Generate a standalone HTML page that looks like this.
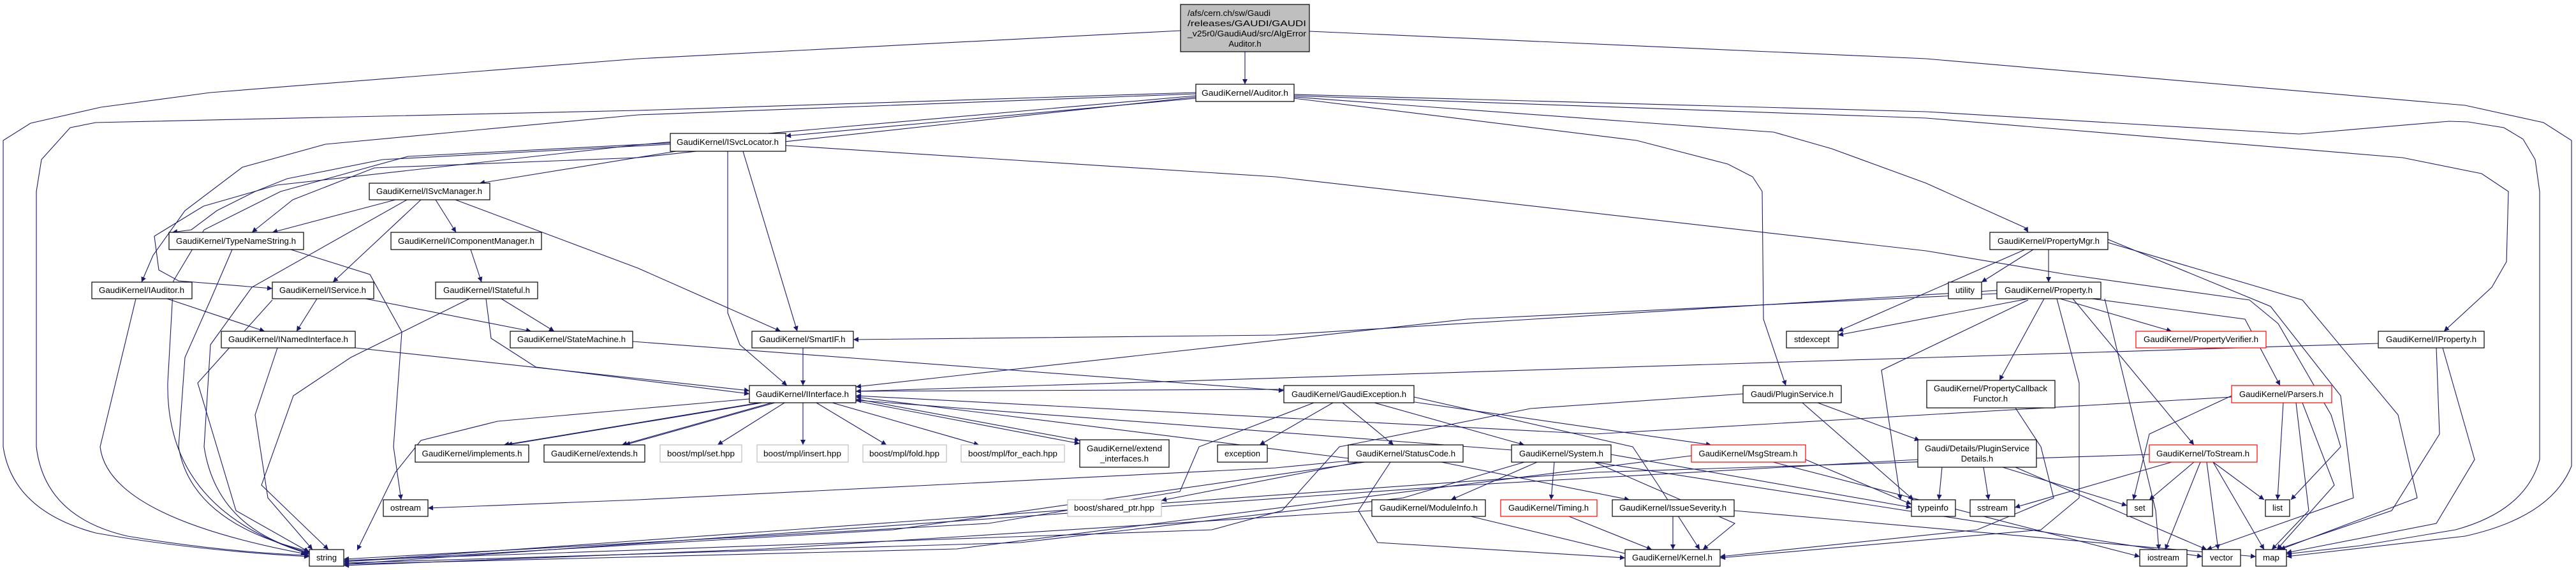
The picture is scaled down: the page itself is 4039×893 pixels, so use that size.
<!DOCTYPE html>
<html><head><meta charset="utf-8"><style>
html,body{margin:0;padding:0;background:#fff;}
svg{display:block;}
text{font-family:"Liberation Sans",sans-serif;font-size:13px;fill:#000;}
.e{fill:none;stroke:#191970;stroke-width:1.1;}
.n{fill:#fff;stroke:#000;stroke-width:1.2;}
.g{fill:#fff;stroke:#bfbfbf;stroke-width:1.2;}
.r{fill:#fff;stroke:#ff0000;stroke-width:1.2;}
</style></head><body>
<svg width="4039" height="893" viewBox="0 0 4039 893" xmlns="http://www.w3.org/2000/svg">
<defs><marker id="a" viewBox="0 0 10 10" refX="10" refY="5" markerWidth="10" markerHeight="8" markerUnits="userSpaceOnUse" orient="auto"><path d="M0,0 L10,5 L0,10 z" fill="#191970"/></marker></defs>
<g class="e" marker-end="url(#a)">
<!-- root -->
<path d="M1952,81 L1952,132"/>
<path d="M1851,48 L1000,92 L330,145 L158,168 L48,193 L5,220 L5,700 Q20,800 150,835 Q300,862 485,872"/>
<path d="M2053,49 L3020,92 L3865,165 L3988,192 L4032,220 L4032,730 Q4000,810 3865,840 L3585,872"/>
<!-- Auditor.h -->
<path d="M1875,145 L1000,173 L150,192 L110,200 L65,250 L57,300 L57,700 Q70,810 200,840 Q350,865 485,870"/>
<path d="M1875,147 L1000,180 L510,226 L380,262 L290,330 L240,400 L222,442"/>
<path d="M1875,150 L1000,227 L434,290 L319,323 L242,370 L249,423 L280,440 L427,452"/>
<path d="M1875,152 L1000,247 L587,263 L459,313 L395,364"/>
<path d="M1875,154 L1232,213"/>
<path d="M2029,148 L3020,175 L3605,210 L3840,190 L3870,191 L3926,200 L3956,218 L3975,250 L3982,300 L3982,720 Q3960,800 3850,830 L3700,855 L3585,868"/>
<path d="M2029,150 L3020,185 L3767,247 L3891,272 L3933,300 L3930,410 L3907,450 L3832,519"/>
<path d="M2029,152 L2781,207 L2872,233 L3020,287 L3176,357 L3180,364"/>
<path d="M2029,154 L2566,220 L2709,257 L2748,277 L2763,300 L2765,500 L2800,604"/>
<!-- ISvcLocator -->
<path d="M1232,228 L2000,277 L3020,393 L3241,430 L3527,470 L3572,507 L3655,650 L3670,700 L3592,783"/>
<path d="M1165,237 L1250,519"/>
<path d="M1141,237 L1141,490 L1160,540 L1234,604"/>
<path d="M1060,237 L752,287"/>
<path d="M1051,224 L640,245 L440,300 L320,360 L272,440 L263,600 Q260,800 485,868"/>
<path d="M1051,226 L600,250 L450,280 L400,300 L340,330 L300,360 L270,364"/>
<!-- ISvcManager -->
<path d="M620,313 L427,364"/>
<path d="M683,313 L715,364"/>
<path d="M660,313 L522,442"/>
<path d="M714,313 L1000,420 L1224,519"/>
<path d="M638,313 L395,450 L330,540 L320,700 Q340,830 485,866"/>
<!-- TypeNameString -->
<path d="M456,391 L580,430 L630,520 L617,700 L629,783"/>
<path d="M364,391 L330,470 L290,560 L280,700 Q300,820 485,864"/>
<!-- IComponentManager / IStateful -->
<path d="M738,391 L755,442"/>
<path d="M786,468 L869,519"/>
<path d="M762,468 L770,530 L840,575 L1175,617"/>
<path d="M736,468 L550,560 L460,620 L410,760 L515,861"/>
<!-- IAuditor -->
<path d="M262,468 L415,519"/>
<path d="M213,468 L157,700 Q170,810 480,868"/>
<!-- IService -->
<path d="M497,468 L465,519"/>
<path d="M573,468 L833,519"/>
<path d="M427,470 L310,600 L370,800 L485,865"/>
<!-- INamedInterface -->
<path d="M557,545 L1000,593 L1175,612"/>
<path d="M435,545 L400,650 L420,780 L490,861"/>
<!-- StateMachine -->
<path d="M992,535 L2013,612"/>
<!-- SmartIF -->
<path d="M1259,545 L1259,604"/>
<!-- IInterface -->
<path d="M1230,631 L1125,697"/>
<path d="M1259,631 L1259,697"/>
<path d="M1280,631 L1390,697"/>
<path d="M1305,631 L1535,697"/>
<path d="M1342,625 L1693,690"/>
<path d="M1342,628 L1693,695"/>
<path d="M1190,631 L790,697"/>
<path d="M1195,631 L795,697"/>
<path d="M1210,631 L975,697"/>
<path d="M1215,631 L980,697"/>
<path d="M1175,625 L780,660 L660,690 L620,740 L560,862"/>
<!-- GaudiException -->
<path d="M2105,631 L2185,697"/>
<path d="M2155,631 L2390,697"/>
<path d="M2090,631 L1975,697"/>
<path d="M2218,630 L2683,697"/>
<path d="M2217,622 L2560,700 L2600,760 L2665,861"/>
<path d="M2060,631 L1880,700 L1850,770 L1550,820 L539,876"/>
<path d="M2013,610 L1342,613"/>
<!-- PluginService -->
<path d="M2850,631 L3010,690"/>
<path d="M2826,631 L3000,783"/>
<path d="M2733,617 L2400,640 L2100,700 L2010,800 L1900,830 L539,878"/>
<!-- StatusCode -->
<path d="M2260,724 L2555,783"/>
<path d="M2180,724 L2130,800 L2160,850 L2548,874"/>
<path d="M2114,722 L2000,733 L1000,783 L671,796"/>
<path d="M2130,724 L1821,784"/>
<path d="M2114,718 L1342,622"/>
<path d="M2140,724 L1400,830 L539,880"/>
<!-- System -->
<path d="M2410,724 L2275,783"/>
<path d="M2437,724 L2432,783"/>
<path d="M2500,724 L2720,820 L2670,861"/>
<path d="M2526,712 L2997,795"/>
<path d="M2500,724 L3453,872"/>
<path d="M2370,705 L1342,627"/>
<path d="M2390,724 L2200,780 L1600,850 L539,882"/>
<!-- MsgStream -->
<path d="M2780,724 L3355,872"/>
<path d="M2652,714 L2050,790 L1500,860 L539,884"/>
<path d="M2831,720 L2997,790"/>
<!-- ModuleInfo, Timing, IssueSeverity -->
<path d="M2306,809 L2560,870"/>
<path d="M2151,800 L1200,860 L539,886"/>
<path d="M2460,809 L2590,861"/>
<path d="M2623,809 L2623,861"/>
<path d="M2719,800 L3537,872"/>
<!-- PluginServiceDetails -->
<path d="M3045,732 L3040,783"/>
<path d="M3110,732 L3118,783"/>
<path d="M3140,732 L3335,792"/>
<path d="M3160,732 L3460,861"/>
<path d="M3007,720 L2300,760 L539,884"/>
<!-- Property -->
<path d="M3230,468 L3405,519"/>
<path d="M3205,468 L3135,596"/>
<path d="M3280,468 L3520,500 L3575,604"/>
<path d="M3250,468 L3440,697"/>
<path d="M3180,468 L2882,525"/>
<path d="M3180,470 L2950,580 L2980,783"/>
<path d="M3131,455 L2000,525 L1338,532"/>
<path d="M3131,460 L2300,500 L1342,606"/>
<path d="M3225,468 L3260,600 L3260,780 L3200,830 L2697,874"/>
<path d="M3300,468 L3380,800 L3385,861"/>
<!-- PropertyMgr -->
<path d="M3212,391 L3212,442"/>
<path d="M3188,391 L3107,442"/>
<path d="M3175,391 L2882,519"/>
<path d="M3305,375 L3560,480 L3670,620 L3690,780 L3460,861"/>
<path d="M3305,380 L3610,470 L3760,650 L3790,780 L3575,861"/>
<!-- PropertyCallbackFunctor -->
<path d="M3160,639 L3200,700 L3220,780 L3100,830 L2697,872"/>
<!-- IProperty -->
<path d="M3729,538 L1342,613"/>
<path d="M3820,545 L3825,680 L3750,800 L3570,861"/>
<path d="M3830,545 L3880,720 L3820,820 L3585,866"/>
<!-- Parsers -->
<path d="M3580,631 L3571,783"/>
<path d="M3499,620 L3370,680 L3345,783"/>
<path d="M3600,631 L3620,800 L3562,861"/>
<path d="M3610,631 L3660,760 L3570,861"/>
<path d="M3499,622 L2500,680 L1342,620"/>
<!-- ToStream -->
<path d="M3405,724 L3159,795"/>
<path d="M3440,724 L3370,783"/>
<path d="M3470,724 L3550,783"/>
<path d="M3450,724 L3395,861"/>
<path d="M3460,724 L3478,861"/>
<path d="M3470,724 L3550,861"/>
<path d="M3370,712 L2500,740 L539,880"/>
</g>
<!-- nodes -->
<rect x="1851" y="7" width="202" height="74" fill="#bfbfbf" stroke="#000" stroke-width="1.2"/>
<text x="1862" y="25" textLength="130" lengthAdjust="spacingAndGlyphs">/afs/cern.ch/sw/Gaudi</text>
<text x="1862" y="41" textLength="186" lengthAdjust="spacingAndGlyphs">/releases/GAUDI/GAUDI</text>
<text x="1862" y="57" textLength="186" lengthAdjust="spacingAndGlyphs">_v25r0/GaudiAud/src/AlgError</text>
<text x="1952" y="73" text-anchor="middle">Auditor.h</text>
<g id="nodes">
<rect class="n" x="1875" y="132" width="154" height="27"/><text x="1952" y="150" text-anchor="middle" textLength="136" lengthAdjust="spacingAndGlyphs">GaudiKernel/Auditor.h</text>
<rect class="n" x="1051" y="209" width="181" height="28"/><text x="1141" y="227" text-anchor="middle" textLength="160" lengthAdjust="spacingAndGlyphs">GaudiKernel/ISvcLocator.h</text>
<rect class="n" x="579" y="287" width="189" height="26"/><text x="673" y="304" text-anchor="middle" textLength="166" lengthAdjust="spacingAndGlyphs">GaudiKernel/ISvcManager.h</text>
<rect class="n" x="265" y="364" width="211" height="27"/><text x="370" y="382" text-anchor="middle" textLength="188" lengthAdjust="spacingAndGlyphs">GaudiKernel/TypeNameString.h</text>
<rect class="n" x="613" y="364" width="236" height="27"/><text x="731" y="382" text-anchor="middle" textLength="214" lengthAdjust="spacingAndGlyphs">GaudiKernel/IComponentManager.h</text>
<rect class="n" x="3120" y="364" width="185" height="27"/><text x="3212" y="382" text-anchor="middle" textLength="160" lengthAdjust="spacingAndGlyphs">GaudiKernel/PropertyMgr.h</text>
<rect class="n" x="144" y="442" width="157" height="26"/><text x="222" y="459" text-anchor="middle" textLength="134" lengthAdjust="spacingAndGlyphs">GaudiKernel/IAuditor.h</text>
<rect class="n" x="427" y="442" width="159" height="26"/><text x="506" y="459" text-anchor="middle" textLength="136" lengthAdjust="spacingAndGlyphs">GaudiKernel/IService.h</text>
<rect class="n" x="683" y="442" width="160" height="26"/><text x="763" y="459" text-anchor="middle" textLength="136" lengthAdjust="spacingAndGlyphs">GaudiKernel/IStateful.h</text>
<rect class="n" x="3055" y="442" width="52" height="26"/><text x="3081" y="459" text-anchor="middle" textLength="30" lengthAdjust="spacingAndGlyphs">utility</text>
<rect class="n" x="3131" y="442" width="163" height="26"/><text x="3212" y="459" text-anchor="middle" textLength="138" lengthAdjust="spacingAndGlyphs">GaudiKernel/Property.h</text>
<rect class="n" x="347" y="519" width="210" height="26"/><text x="452" y="536" text-anchor="middle" textLength="188" lengthAdjust="spacingAndGlyphs">GaudiKernel/INamedInterface.h</text>
<rect class="n" x="800" y="519" width="192" height="26"/><text x="896" y="536" text-anchor="middle" textLength="170" lengthAdjust="spacingAndGlyphs">GaudiKernel/StateMachine.h</text>
<rect class="n" x="1179" y="519" width="159" height="26"/><text x="1258" y="536" text-anchor="middle" textLength="135" lengthAdjust="spacingAndGlyphs">GaudiKernel/SmartIF.h</text>
<rect class="n" x="2801" y="519" width="81" height="26"/><text x="2841" y="536" text-anchor="middle" textLength="56" lengthAdjust="spacingAndGlyphs">stdexcept</text>
<rect class="r" x="3349" y="519" width="204" height="26"/><text x="3451" y="536" text-anchor="middle" textLength="180" lengthAdjust="spacingAndGlyphs">GaudiKernel/PropertyVerifier.h</text>
<rect class="n" x="3729" y="519" width="166" height="26"/><text x="3812" y="536" text-anchor="middle" textLength="142" lengthAdjust="spacingAndGlyphs">GaudiKernel/IProperty.h</text>
<rect class="n" x="3021" y="596" width="201" height="43"/><text x="3121" y="613" text-anchor="middle" textLength="178" lengthAdjust="spacingAndGlyphs">GaudiKernel/PropertyCallback</text><text x="3121" y="629" text-anchor="middle">Functor.h</text>
<rect class="n" x="1175" y="604" width="167" height="27"/><text x="1258" y="622" text-anchor="middle" textLength="146" lengthAdjust="spacingAndGlyphs">GaudiKernel/IInterface.h</text>
<rect class="n" x="2013" y="604" width="204" height="27"/><text x="2115" y="622" text-anchor="middle" textLength="180" lengthAdjust="spacingAndGlyphs">GaudiKernel/GaudiException.h</text>
<rect class="n" x="2733" y="604" width="154" height="27"/><text x="2810" y="622" text-anchor="middle" textLength="130" lengthAdjust="spacingAndGlyphs">Gaudi/PluginService.h</text>
<rect class="r" x="3499" y="604" width="157" height="27"/><text x="3577" y="622" text-anchor="middle" textLength="132" lengthAdjust="spacingAndGlyphs">GaudiKernel/Parsers.h</text>
<rect class="n" x="651" y="697" width="178" height="27"/><text x="740" y="715" text-anchor="middle" textLength="157" lengthAdjust="spacingAndGlyphs">GaudiKernel/implements.h</text>
<rect class="n" x="853" y="697" width="158" height="27"/><text x="932" y="715" text-anchor="middle" textLength="136" lengthAdjust="spacingAndGlyphs">GaudiKernel/extends.h</text>
<rect class="g" x="1035" y="697" width="128" height="27"/><text x="1099" y="715" text-anchor="middle" textLength="106" lengthAdjust="spacingAndGlyphs">boost/mpl/set.hpp</text>
<rect class="g" x="1187" y="697" width="143" height="27"/><text x="1258" y="715" text-anchor="middle" textLength="122" lengthAdjust="spacingAndGlyphs">boost/mpl/insert.hpp</text>
<rect class="g" x="1353" y="697" width="131" height="27"/><text x="1418" y="715" text-anchor="middle" textLength="110" lengthAdjust="spacingAndGlyphs">boost/mpl/fold.hpp</text>
<rect class="g" x="1507" y="697" width="162" height="27"/><text x="1588" y="715" text-anchor="middle" textLength="140" lengthAdjust="spacingAndGlyphs">boost/mpl/for_each.hpp</text>
<rect class="n" x="1693" y="689" width="140" height="43"/><text x="1763" y="707" text-anchor="middle" textLength="118" lengthAdjust="spacingAndGlyphs">GaudiKernel/extend</text><text x="1763" y="723" text-anchor="middle" textLength="76" lengthAdjust="spacingAndGlyphs">_interfaces.h</text>
<rect class="n" x="1909" y="697" width="78" height="27"/><text x="1948" y="715" text-anchor="middle" textLength="56" lengthAdjust="spacingAndGlyphs">exception</text>
<rect class="n" x="2114" y="697" width="180" height="27"/><text x="2204" y="715" text-anchor="middle" textLength="156" lengthAdjust="spacingAndGlyphs">GaudiKernel/StatusCode.h</text>
<rect class="n" x="2370" y="697" width="156" height="27"/><text x="2448" y="715" text-anchor="middle" textLength="132" lengthAdjust="spacingAndGlyphs">GaudiKernel/System.h</text>
<rect class="r" x="2652" y="697" width="179" height="27"/><text x="2741" y="715" text-anchor="middle" textLength="155" lengthAdjust="spacingAndGlyphs">GaudiKernel/MsgStream.h</text>
<rect class="n" x="3007" y="689" width="186" height="43"/><text x="3100" y="707" text-anchor="middle" textLength="164" lengthAdjust="spacingAndGlyphs">Gaudi/Details/PluginService</text><text x="3100" y="723" text-anchor="middle">Details.h</text>
<rect class="r" x="3370" y="697" width="169" height="27"/><text x="3454" y="715" text-anchor="middle" textLength="146" lengthAdjust="spacingAndGlyphs">GaudiKernel/ToStream.h</text>
<rect class="n" x="601" y="783" width="70" height="26"/><text x="636" y="800" text-anchor="middle" textLength="48" lengthAdjust="spacingAndGlyphs">ostream</text>
<rect class="g" x="1674" y="783" width="147" height="26"/><text x="1747" y="800" text-anchor="middle" textLength="126" lengthAdjust="spacingAndGlyphs">boost/shared_ptr.hpp</text>
<rect class="n" x="2151" y="783" width="178" height="26"/><text x="2240" y="800" text-anchor="middle" textLength="154" lengthAdjust="spacingAndGlyphs">GaudiKernel/ModuleInfo.h</text>
<rect class="r" x="2353" y="783" width="151" height="26"/><text x="2428" y="800" text-anchor="middle" textLength="126" lengthAdjust="spacingAndGlyphs">GaudiKernel/Timing.h</text>
<rect class="n" x="2528" y="783" width="191" height="26"/><text x="2623" y="800" text-anchor="middle" textLength="168" lengthAdjust="spacingAndGlyphs">GaudiKernel/IssueSeverity.h</text>
<rect class="n" x="2997" y="783" width="69" height="26"/><text x="3031" y="800" text-anchor="middle" textLength="48" lengthAdjust="spacingAndGlyphs">typeinfo</text>
<rect class="n" x="3089" y="783" width="70" height="26"/><text x="3124" y="800" text-anchor="middle" textLength="48" lengthAdjust="spacingAndGlyphs">sstream</text>
<rect class="n" x="3335" y="783" width="40" height="26"/><text x="3355" y="800" text-anchor="middle">set</text>
<rect class="n" x="3552" y="783" width="38" height="26"/><text x="3571" y="800" text-anchor="middle">list</text>
<rect class="n" x="485" y="861" width="54" height="26"/><text x="512" y="878" text-anchor="middle" textLength="32" lengthAdjust="spacingAndGlyphs">string</text>
<rect class="n" x="2548" y="861" width="149" height="26"/><text x="2622" y="878" text-anchor="middle" textLength="126" lengthAdjust="spacingAndGlyphs">GaudiKernel/Kernel.h</text>
<rect class="n" x="3355" y="861" width="74" height="26"/><text x="3392" y="878" text-anchor="middle" textLength="50" lengthAdjust="spacingAndGlyphs">iostream</text>
<rect class="n" x="3453" y="861" width="60" height="26"/><text x="3483" y="878" text-anchor="middle" textLength="36" lengthAdjust="spacingAndGlyphs">vector</text>
<rect class="n" x="3537" y="861" width="48" height="26"/><text x="3561" y="878" text-anchor="middle" textLength="26" lengthAdjust="spacingAndGlyphs">map</text>
</g>
</svg>
</body></html>
